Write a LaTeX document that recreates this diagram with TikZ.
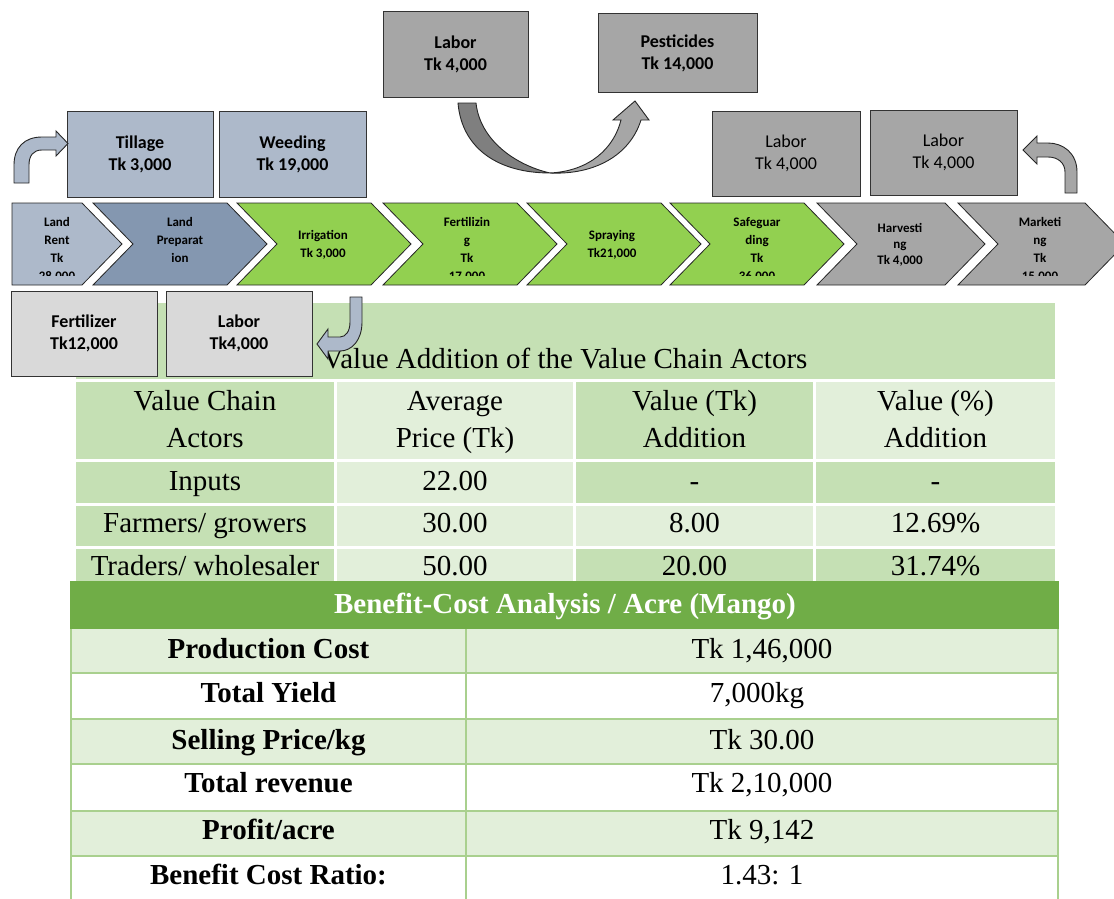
\documentclass[tikz,border=0pt]{standalone}
\usepackage{fontspec}
\setmainfont{Liberation Serif}
\newfontfamily\calib{Carlito}
\definecolor{slateL}{HTML}{ADB9CA}
\definecolor{slateD}{HTML}{8497B0}
\definecolor{leaf}{HTML}{92D050}
\definecolor{greyM}{HTML}{A6A6A6}
\definecolor{greyD}{HTML}{7F7F7F}
\definecolor{greyL}{HTML}{D9D9D9}
\definecolor{mintD}{HTML}{C5E0B4}
\definecolor{mintL}{HTML}{E2EFDA}
\definecolor{grass}{HTML}{70AD47}
\definecolor{rulegreen}{HTML}{A9D08E}
\tikzset{
  cost/.style={draw=black!80, line width=1pt, inner sep=0pt, align=center,
    font=\calib\bfseries\fontsize{18}{22}\selectfont},
  costplain/.style={cost, font=\calib\fontsize{18}{22}\selectfont},
  chev/.style={draw=black!85, line width=0.8pt},
  % multi-line labels: the base anchor sits on the last line
  chevtext/.style={anchor=base, inner sep=0pt, align=center,
    font=\calib\bfseries\fontsize{13}{18}\selectfont},
  chevtight/.style={chevtext, font=\calib\bfseries\fontsize{13}{16}\selectfont},
  bendarrow/.style={draw=black!85, line width=0.9pt},
  tabtext/.style={anchor=base, inner sep=0pt, align=center,
    font=\fontsize{29}{37}\selectfont},
  tabbold/.style={tabtext, font=\bfseries\fontsize{29}{37}\selectfont},
}
\begin{document}
\begin{tikzpicture}[x=1pt, y=-1pt]
\useasboundingbox (0,0) rectangle (1114,899);

% ---- title band of the value addition table
\fill[mintD] (76,303) rectangle (1055,379);
\node[tabtext] (vatitle) at (565,368)
  {Value Addition of the Value Chain Actors};

% ---- cost boxes above the chain
\node[cost, fill=greyM, minimum width=145pt, minimum height=85pt] (laborA) at (455.5,54.5) {Labor\\Tk 4,000};
\node[cost, fill=greyM, minimum width=159pt, minimum height=78pt] (pest) at (677.5,53) {Pesticides\\Tk 14,000};
\node[cost, fill=slateL, minimum width=146pt, minimum height=86pt] (till) at (140,154) {Tillage\\Tk 3,000};
\node[cost, fill=slateL, minimum width=147pt, minimum height=86pt] (weed) at (292.5,154) {Weeding\\Tk 19,000};
\node[costplain, fill=greyM, minimum width=148pt, minimum height=85pt] (laborB) at (786,153.5) {Labor\\Tk 4,000};
\node[costplain, fill=greyM, minimum width=147pt, minimum height=85pt] (laborC) at (943.5,152.5) {Labor\\Tk 4,000};

% curved arrow from labor to pesticides
\path[bendarrow, fill=greyD] (458,103) .. controls (462,150) and (500,173) .. (550,173)
  .. controls (515,165) and (480,140) .. (476,103) -- cycle;
\path[bendarrow, fill=greyM] (550,173) .. controls (590,171) and (614,148) .. (621,120)
  -- (613,120) -- (635,101) -- (649,120) -- (641,120)
  .. controls (630,155) and (595,175) .. (550,173) -- cycle;

% bent arrow into tillage
\path[bendarrow, fill=slateL] (14,183) -- (14,165) .. controls (14,148) and (24,137) .. (42,137)
  -- (56,137) -- (56,131) -- (68,143.5) -- (56,156) -- (56,150) -- (42,150)
  .. controls (33,150) and (29,156) .. (29,165) -- (29,183) -- cycle;

% bent arrow from marketing to labor
\path[bendarrow, fill=greyM] (1077,193) -- (1077,172) .. controls (1077,153) and (1063,143) .. (1048,143)
  -- (1037,143) -- (1037,136) -- (1023,150) -- (1037,164) -- (1037,157) -- (1048,157)
  .. controls (1058,157) and (1065,163) .. (1065,172) -- (1065,193) -- cycle;

% ---- the chain of stages
\path[chev, fill=slateL] (12,203) -- (82,203) -- (122,244) -- (82,285) -- (12,285) -- cycle;
\foreach \L/\W/\c in {93/134/slateD, 237/134/leaf, 383/134/leaf, 527/134/leaf,
                      670/134/leaf, 817/128/greyM, 958/127/greyM}
  \path[chev, fill=\c] (\L,203) -- (\L+\W,203) -- (\L+\W+40,244) -- (\L+\W,285)
     -- (\L,285) -- (\L+40,244) -- cycle;

\begin{scope}
\clip (0,200) rectangle (1114,275.5);
\node[chevtext] (rent)  at (57,280)  {Land\\Rent\\Tk\\28,000};
\node[chevtext] (prep)  at (180,262) {Land\\Preparat\\ion};
\node[chevtext] (irri)  at (323,257) {Irrigation\\Tk 3,000};
\node[chevtext] (fert)  at (467,280) {Fertilizin\\g\\Tk\\17,000};
\node[chevtext] (spray) at (612,257) {Spraying\\Tk21,000};
\node[chevtext] (safe)  at (757,280) {Safeguar\\ding\\Tk\\36,000};
\node[chevtight] (harv) at (900,264) {Harvesti\\ng\\Tk 4,000};
\node[chevtext] (mark)  at (1040,280) {Marketi\\ng\\Tk\\15,000};
\end{scope}

% ---- cost boxes below the chain
\node[cost, fill=greyL, minimum width=146pt, minimum height=85pt] (fertbox) at (84,333.5) {Fertilizer\\Tk12,000};
\node[cost, fill=greyL, minimum width=146pt, minimum height=85pt] (laborD) at (239,333.5) {Labor\\Tk4,000};

% bent arrow back to the labor box
\path[bendarrow, fill=slateL] (350,297) -- (362,297) -- (362,322)
  .. controls (362,340) and (352,351) .. (340,351) -- (328,351) -- (328,359)
  -- (317,344) -- (328,329) -- (328,337) -- (340,337)
  .. controls (346,337) and (350,331) .. (350,322) -- cycle;

% ---- value addition table
\foreach \xa/\xb/\c in {76/334/mintD, 337/573/mintL, 576/813/mintD, 816/1055/mintL}
  \fill[\c] (\xa,382) rectangle (\xb,459);
\foreach \xa/\xb/\c in {76/334/mintD, 337/573/mintL, 576/813/mintD, 816/1055/mintD}
  \fill[\c] (\xa,462) rectangle (\xb,503);
\foreach \xa/\xb/\c in {76/334/mintD, 337/573/mintL, 576/813/mintL, 816/1055/mintL}
  \fill[\c] (\xa,506) rectangle (\xb,546);
\foreach \xa/\xb/\c in {76/334/mintD, 337/573/mintL, 576/813/mintD, 816/1055/mintD}
  \fill[\c] (\xa,549) rectangle (\xb,590);

\node[tabtext] (h1) at (205,447)   {Value Chain\\Actors};
\node[tabtext] (h2) at (455,447)   {Average\\Price (Tk)};
\node[tabtext] (h3) at (694.5,447) {Value (Tk)\\Addition};
\node[tabtext] (h4) at (935.5,447) {Value (\%)\\Addition};

\node[tabtext] (a1) at (205,490)   {Inputs};
\node[tabtext] (a2) at (455,490)   {22.00};
\node[tabtext] (a3) at (694.5,490) {-};
\node[tabtext] (a4) at (935.5,490) {-};

\node[tabtext] (b1) at (205,532)   {Farmers/ growers};
\node[tabtext] (b2) at (455,532)   {30.00};
\node[tabtext] (b3) at (694.5,532) {8.00};
\node[tabtext] (b4) at (935.5,532) {12.69\%};

\node[tabtext] (c1) at (205,575)   {Traders/ wholesaler};
\node[tabtext] (c2) at (455,575)   {50.00};
\node[tabtext] (c3) at (694.5,575) {20.00};
\node[tabtext] (c4) at (935.5,575) {31.74\%};

% ---- benefit-cost table
\foreach \ya/\yb/\c in {629/673/mintL, 673/719/white, 719/764/mintL,
                        764/811/white, 811/856/mintL, 856/899/white}
  \fill[\c] (71,\ya) rectangle (1058,\yb);
\fill[grass] (70,581) rectangle (1059,629);
\draw[rulegreen, line width=2pt] (71,629) -- (71,899) (466,629) -- (466,899) (1058,629) -- (1058,899);
\foreach \y in {673,719,764,811,856}
  \draw[rulegreen, line width=2pt] (71,\y) -- (1058,\y);

\node[tabbold, text=white] (bctitle) at (565,613) {Benefit-Cost Analysis / Acre (Mango)};

\node[tabbold] (p1) at (268.5,658) {Production Cost};
\node[tabtext] (p2) at (762,658)   {Tk 1,46,000};
\node[tabbold] (y1) at (268.5,702) {Total Yield};
\node[tabtext] (y2) at (757,702)   {7,000kg};
\node[tabbold] (s1) at (268.5,749) {Selling Price/kg};
\node[tabtext] (s2) at (762,749)   {Tk 30.00};
\node[tabbold] (r1) at (268.5,792) {Total revenue};
\node[tabtext] (r2) at (762,792)   {Tk 2,10,000};
\node[tabbold] (f1) at (268.5,839) {Profit/acre};
\node[tabtext] (f2) at (762,839)   {Tk 9,142};
\node[tabbold] (q1) at (268.5,884) {Benefit Cost Ratio:};
\node[tabtext] (q2) at (762,884)   {1.43: 1};
\end{tikzpicture}
\end{document}
